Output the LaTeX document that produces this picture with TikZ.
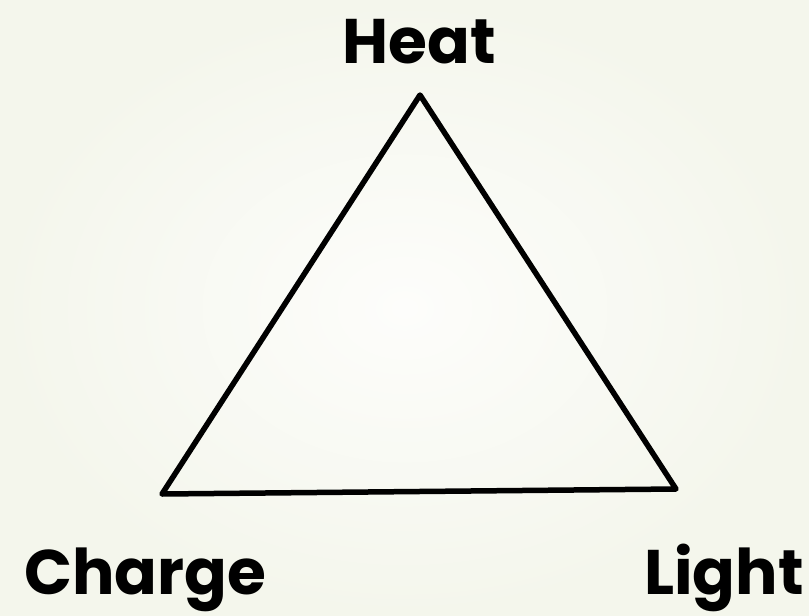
\documentclass[tikz,border=0pt]{standalone}
\usepackage{fontspec}
\setmainfont{Poppins}
\usetikzlibrary{positioning}
\definecolor{bgEdge}{HTML}{F4F6EC}
\definecolor{bgMid}{HTML}{FDFDFB}

\begin{document}
\begin{tikzpicture}[x=1pt, y=-1pt,
      lbl/.style={inner sep=0pt, font=\fontsize{63}{72}\selectfont\bfseries,
                  anchor=base}]
    % background
    \useasboundingbox (0,0) rectangle (809,616);
    \shade[inner color=bgMid, outer color=bgEdge] (0,0) rectangle (809,616);

    \coordinate (top) at (420,95);
    \coordinate (left) at (162,494);
    \coordinate (right) at (676,489);

    \draw[line width=5.5pt, line join=round, line cap=round]
      (top) -- (right) -- (left) -- cycle;

    \node[lbl] (heat) at (419,63) {Heat};
    \node[lbl] (charge) at (145,594) {Charge};
    \node[lbl] (light) at (724,594) {Light};
  \end{tikzpicture}
\end{document}
